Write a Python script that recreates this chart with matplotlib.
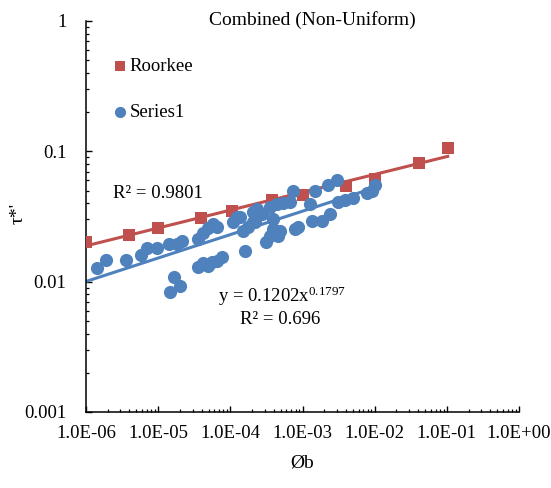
"""Combined (Non-Uniform) log-log scatter with power trendlines."""

import matplotlib

matplotlib.use("Agg")
import matplotlib.pyplot as plt
import numpy as np
from matplotlib.ticker import FixedLocator, LogLocator, NullFormatter

# Roorkee series (red squares)
roorkee_x = [1.0e-6, 3.9e-6, 1.0e-5, 3.9e-5, 1.05e-4, 3.8e-4, 1.0e-3, 4.0e-3, 1.0e-2, 4.1e-2, 1.03e-1]
roorkee_y = [0.020, 0.023, 0.026, 0.031, 0.035, 0.042, 0.046, 0.054, 0.061, 0.082, 0.107]

# Series1 (blue circles)
series1_x = [
    1.4e-6, 1.9e-6, 3.6e-6, 5.8e-6, 7.0e-6, 9.6e-6, 1.41e-5, 1.82e-5, 2.14e-5, 1.66e-5,
    2.0e-5, 1.46e-5, 3.56e-5, 4.17e-5, 4.9e-5, 5.74e-5, 6.5e-5, 3.56e-5, 4.17e-5, 4.9e-5,
    5.56e-5, 6.5e-5, 7.66e-5, 1.09e-4, 1.23e-4, 1.59e-4, 1.50e-4, 1.75e-4, 2.06e-4, 2.06e-4,
    2.33e-4, 2.74e-4, 3.11e-4, 3.53e-4, 3.89e-4, 3.89e-4, 4.56e-4, 4.41e-4, 5.36e-4, 6.68e-4,
    7.36e-4, 7.85e-4, 8.63e-4, 1.26e-3, 1.35e-3, 1.49e-3, 1.86e-3, 2.40e-3, 2.25e-3, 2.99e-3,
    3.09e-3, 3.86e-3, 4.99e-3, 7.80e-3, 9.14e-3, 1.01e-2, 1.36e-4, 3.53e-4, 4.86e-4, 2.19e-4,
]
series1_y = [
    0.0127, 0.0146, 0.0146, 0.0159, 0.0180, 0.0180, 0.0193, 0.0193, 0.0204, 0.0108,
    0.0092, 0.0083, 0.0211, 0.0235, 0.0256, 0.0275, 0.0265, 0.0129, 0.0138, 0.0133,
    0.0141, 0.0143, 0.0154, 0.0285, 0.0316, 0.0171, 0.0243, 0.0265, 0.0285, 0.0340,
    0.0358, 0.0328, 0.0200, 0.0371, 0.0300, 0.0252, 0.0223, 0.0391, 0.0398, 0.0412,
    0.0492, 0.0252, 0.0261, 0.0391, 0.0290, 0.0492, 0.0290, 0.0328, 0.0547, 0.0607,
    0.0405, 0.0427, 0.0442, 0.0475, 0.0492, 0.0556, 0.0316, 0.0223, 0.0243, 0.0285,
]

# Series1 power trendline as printed on the chart
series1_fit_a = 0.1202
series1_fit_b = 0.1797

x_ticks = [1e-6, 1e-5, 1e-4, 1e-3, 1e-2, 1e-1, 1e0]
x_tick_labels = ["1.0E-06", "1.0E-05", "1.0E-04", "1.0E-03", "1.0E-02", "1.0E-01", "1.0E+00"]
y_ticks = [0.001, 0.01, 0.1, 1]
y_tick_labels = ["0.001", "0.01", "0.1", "1"]

RED = "#C0504D"
BLUE = "#4F81BD"
W, H = 551, 488

plt.rcParams["font.family"] = ["Liberation Serif", "DejaVu Serif"]
plt.rcParams["mathtext.fontset"] = "custom"
plt.rcParams["mathtext.rm"] = "Liberation Serif"
plt.rcParams["mathtext.it"] = "Liberation Serif"


def fig_xy(px, py):
    return px / W, 1 - py / H


fig = plt.figure(figsize=(W / 100, H / 100), dpi=100)
ax = fig.add_axes([86 / W, (H - 412) / H, 433 / W, 391 / H])
ax.set_xscale("log")
ax.set_yscale("log")
ax.set_xlim(1e-6, 1)
ax.set_ylim(1e-3, 1)

# power fit for Roorkee in log space
b_r, log_a_r = np.polyfit(np.log10(roorkee_x), np.log10(roorkee_y), 1)
xr = np.logspace(np.log10(min(roorkee_x)), np.log10(max(roorkee_x)), 50)
ax.plot(xr, 10 ** log_a_r * xr ** b_r, color=RED, lw=2.2, zorder=2)

# Excel draws the Series1 trendline from the axis start
xs = np.logspace(-6, np.log10(max(series1_x)), 50)
ax.plot(xs, series1_fit_a * xs ** series1_fit_b, color=BLUE, lw=2.2, zorder=2)

ax.scatter(roorkee_x, roorkee_y, marker="s", s=85, color=RED, label="Roorkee", zorder=3, linewidths=0)
ax.scatter(series1_x, series1_y, marker="o", s=90, color=BLUE, label="Series1", zorder=3, linewidths=0)

for side in ["top", "right"]:
    ax.spines[side].set_visible(False)
for side in ["left", "bottom"]:
    ax.spines[side].set_linewidth(1.1)

ax.xaxis.set_major_locator(FixedLocator(x_ticks))
ax.set_xticklabels(x_tick_labels)
ax.yaxis.set_major_locator(FixedLocator(y_ticks))
ax.set_yticklabels(y_tick_labels)
for axis in (ax.xaxis, ax.yaxis):
    axis.set_minor_locator(LogLocator(base=10, subs=np.arange(2, 10), numticks=20))
    axis.set_minor_formatter(NullFormatter())
ax.tick_params(which="major", direction="in", length=4, width=1, labelsize=13.5)
ax.tick_params(which="minor", direction="in", length=2.5, width=0.9)
ax.tick_params(axis="x", which="major", pad=9)
ax.tick_params(axis="y", which="major", pad=14)

ax.legend(loc="upper left", bbox_to_anchor=(0.035, 0.925), frameon=False, fontsize=13.5,
          handletextpad=-0.1, labelspacing=1.55, borderaxespad=0, scatterpoints=1,
          markerscale=0.85, handlelength=1.2)

fig.text(*fig_xy(312, 20), "Combined (Non-Uniform)", ha="center", va="center", fontsize=14)
fig.text(*fig_xy(302, 463), "Øb", ha="center", va="center", fontsize=14)
fig.text(*fig_xy(18, 213), "τ*'", ha="center", va="center", fontsize=14, rotation=90)

fig.text(*fig_xy(113, 193), "R² = 0.9801", ha="left", va="center", fontsize=13.5)
fig.text(*fig_xy(218, 296), "y = 0.1202x$^{0.1797}$", ha="left", va="center", fontsize=13.5)
fig.text(*fig_xy(240, 319), "R² = 0.696", ha="left", va="center", fontsize=13.5)

fig.savefig("out.png", dpi=100)
